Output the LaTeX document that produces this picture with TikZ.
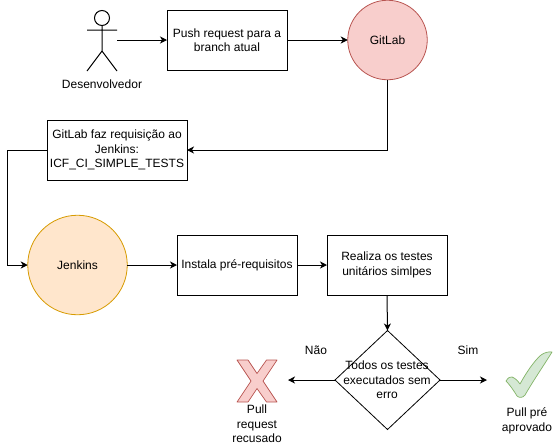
\documentclass[tikz,border=0pt]{standalone}
\usepackage{fontspec}
\setmainfont{Liberation Sans}
\usetikzlibrary{arrows.meta,shapes.geometric}
\definecolor{redfill}{HTML}{F8CECC}
\definecolor{redline}{HTML}{B85450}
\definecolor{orangefill}{HTML}{FFE6CC}
\definecolor{orangeline}{HTML}{D79B00}
\definecolor{greenfill}{HTML}{D5E8D4}
\definecolor{greenline}{HTML}{82B366}
\tikzset{
  x=1pt,y=-1pt,
  every node/.style={font=\fontsize{12}{14.4}\selectfont,align=center,inner sep=0pt,outer sep=0pt},
  procbox/.style={draw=black,line width=1pt,fill=white,minimum width=#1,minimum height=60pt},
  round/.style={circle,draw,line width=0.8pt,minimum size=#1},
  flow/.style={line width=1pt,-{Stealth[length=7pt,width=7pt,inset=2pt]}},
  plain/.style={draw=none,fill=none},
  actorline/.style={line width=1pt,black}
}
\begin{document}
\begin{tikzpicture}
\useasboundingbox (0,0) rectangle (553,445);
% actor
\draw[actorline] (102,18) circle (7.5);
\draw[actorline] (102,25.5) -- (102,51) (87,30) -- (117,30) (87,71) -- (102,51) -- (117,71);
\node[plain] (devlabel) at (102,84) {Desenvolvedor};
\coordinate (actorhand) at (117,40);
% boxes
\node[procbox=120pt] (push) at (227,40) {Push request para a\\branch atual};
\node[round=79.5pt,draw=redline,fill=redfill] (gitlab) at (387.5,40) {GitLab};
\node[procbox=140pt] (req) at (117,150) {GitLab faz requisição ao\\Jenkins:\\ICF\_CI\_SIMPLE\_TESTS};
\node[round=99.5pt,draw=orangeline,fill=orangefill] (jenkins) at (77.5,265) {Jenkins};
\node[procbox=120pt] (inst) at (237,265) {Instala pré-requisitos};
\node[procbox=120pt] (test) at (387,265) {Realiza os testes\\unitários simlpes};
\draw[line width=0.8pt,fill=white] (387.5,330.5) coordinate (dtop) -- (440,380) coordinate (dright) -- (387.5,429.5) -- (335,380) coordinate (dleft) -- cycle;
\node[plain] (dtext) at (387,380) {Todos os testes\\executados sem\\erro};
% cross
\draw[line width=0.7pt,draw=redline,fill=redfill,line join=round]
  (237,360) -- (248,360) -- (257,373.5) -- (266.5,360) -- (277,360) -- (263,381) -- (277,402) -- (266.5,402) -- (257,388.5) -- (248,402) -- (237,402) -- (251,381) -- cycle;
\node[plain] (nolabel) at (257,424) {Pull\\request\\recusado};
% tick
\draw[line width=0.7pt,draw=greenline,fill=greenfill,line join=round]
  (506,381) .. controls (508,378) and (510,376) .. (512,377)
  .. controls (515,378) and (518,381) .. (520,384)
  .. controls (526,373) and (534,361) .. (541,355)
  .. controls (545,352) and (550,351.5) .. (552,352)
  .. controls (546,362) and (533,381) .. (525,395)
  .. controls (523,398) and (519,398) .. (517,396)
  .. controls (514,391) and (510,385) .. (506,381) -- cycle;
\node[plain] (yeslabel) at (527,421) {Pull pré\\aprovado};
\coordinate (noend) at (288,380);
\coordinate (yesend) at (487,380);
\node[plain] (nao) at (316,350) {Não};
\node[plain] (sim) at (468,350) {Sim};
% connectors
\draw[flow] (actorhand) -- (push.west);
\draw[flow] (push.east) -- (gitlab.west);
\draw[flow] (gitlab.south) |- (req.east);
\draw[flow] (req.west) -- ++(-40,0) |- (jenkins.west);
\draw[flow] (jenkins.east) -- (inst.west);
\draw[flow] (inst.east) -- (test.west);
\draw[flow] (test.south) -- (dtop);
\draw[flow] (dleft) -- (noend);
\draw[flow] (dright) -- (yesend);
\end{tikzpicture}
\end{document}
